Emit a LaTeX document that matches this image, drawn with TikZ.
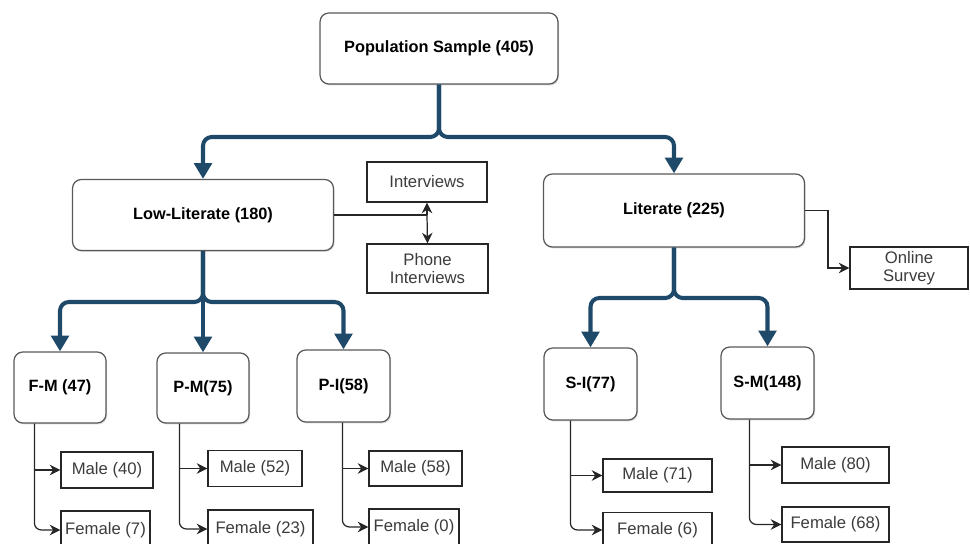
\documentclass[tikz,border=0pt]{standalone}
\usepackage{fontspec}
\setmainfont{Liberation Sans}
\usetikzlibrary{arrows.meta,positioning,calc,shadows}
\definecolor{branchblue}{RGB}{31,73,105}
\definecolor{leafgray}{RGB}{60,60,60}
\tikzset{
  group/.style={draw=black!65, line width=0.7pt, rounded corners=5pt, fill=white, align=center,
                font=\fontsize{9.3}{11}\selectfont\bfseries, inner sep=2pt,
                drop shadow={shadow xshift=0.6pt, shadow yshift=-0.8pt, opacity=0.3}},
  topbox/.style={group, minimum width=5.22cm, minimum height=1.42cm},
  subbox/.style={group, minimum width=1.86cm, minimum height=1.42cm},
  leaf/.style={draw=black!85, line width=0.8pt, fill=white, align=center, text=leafgray,
               font=\fontsize{9.5}{10.3}\selectfont, inner sep=2pt, minimum height=0.72cm},
  split/.style={-{Triangle[length=9pt,width=10pt]}, draw=branchblue, line width=2.3pt, rounded corners=5pt},
  feed/.style={-{Stealth[length=6pt,width=6pt]}, line width=0.7pt, draw=black!85, rounded corners=4pt},
}
\begin{document}
\begin{tikzpicture}[x=0.02cm, y=-0.02cm]
  \useasboundingbox (0,0) rectangle (970,544);
  % main groups
  \node[topbox, minimum width=4.76cm] (pop) at (439,48.5) {Population Sample (405)};
  \node[topbox] (low) at (203,215) {Low-Literate (180)};
  \node[topbox, minimum height=1.46cm] (lit) at (674,210.5) {Literate (225)};
  % collection methods
  \node[leaf, minimum width=2.4cm, minimum height=0.8cm] (intv) at (427,182) {Interviews};
  \node[leaf, minimum width=2.42cm, minimum height=0.98cm] (phone) at (427.5,268.5) {Phone\\Interviews};
  \node[leaf, minimum width=2.36cm, minimum height=0.84cm] (online) at (909,268) {Online\\Survey};
  % sub groups
  \node[subbox, minimum width=1.84cm] (fm) at (60,387.5) {F-M (47)};
  \node[subbox, minimum width=1.84cm, minimum height=1.4cm] (pm) at (203,388) {P-M(75)};
  \node[subbox, minimum height=1.44cm] (pi) at (343.5,386) {P-I(58)};
  \node[subbox, minimum height=1.44cm] (si) at (590.5,384) {S-I(77)};
  \node[subbox, minimum height=1.44cm] (sm) at (767.5,383) {S-M(148)};
  % gender split
  \node[leaf, minimum width=1.84cm] (fm-m) at (107,470) {Male (40)};
  \node[leaf, minimum width=1.78cm, minimum height=0.76cm] (fm-f) at (105.5,530) {Female (7)};
  \node[leaf, minimum width=1.88cm] (pm-m) at (255,468.5) {Male (52)};
  \node[leaf, minimum width=2.1cm, minimum height=0.76cm] (pm-f) at (260.5,529) {Female (23)};
  \node[leaf, minimum width=1.86cm, minimum height=0.7cm] (pi-m) at (415.5,468.5) {Male (58)};
  \node[leaf, minimum width=1.8cm] (pi-f) at (414,527) {Female (0)};
  \node[leaf, minimum width=2.18cm, minimum height=0.66cm] (si-m) at (657.5,475.5) {Male (71)};
  \node[leaf, minimum width=2.18cm, minimum height=0.7cm] (si-f) at (657.5,530) {Female (6)};
  \node[leaf, minimum width=2.14cm] (sm-m) at (835.5,465) {Male (80)};
  \node[leaf, minimum width=2.14cm, minimum height=0.7cm] (sm-f) at (835.5,524.5) {Female (68)};

  % blue splits
  \coordinate (fork1) at (439,137);
  \coordinate (fork2) at (203,302);
  \coordinate (fork3) at (674,298);
  \draw[split] (pop.south) -- (fork1) -| (low.north);
  \draw[split] (pop.south) -- (fork1) -| (lit.north);
  \draw[split] (low.south) -- (fork2) -| (fm.north);
  \draw[split] (low.south) -- (pm.north);
  \draw[split] (low.south) -- (fork2) -| (pi.north);
  \draw[split] (lit.south) -- (fork3) -| (si.north);
  \draw[split] (lit.south) -- (fork3) -| (sm.north);

  % methods
  \coordinate (tap) at (427,215);
  \draw[line width=0.7pt, draw=black!85] (low.east) -- (tap);
  \draw[feed] (tap) -- (intv.south);
  \draw[feed] (tap) -- (phone.north);
  \draw[feed, sharp corners] (lit.east) -- ++(23,0) |- (online.west);

  % male / female
  \foreach \g/\dx in {fm/21, pm/23, pi/46, si/27, sm/29} {
    \coordinate (\g-x) at ([xshift=\dx*0.02cm]\g.south west);
    \draw[feed] (\g-x) |- (\g-f.west);
    \draw[feed] (\g-x |- \g-m.west) -- (\g-m.west);
  }
\end{tikzpicture}
\end{document}
